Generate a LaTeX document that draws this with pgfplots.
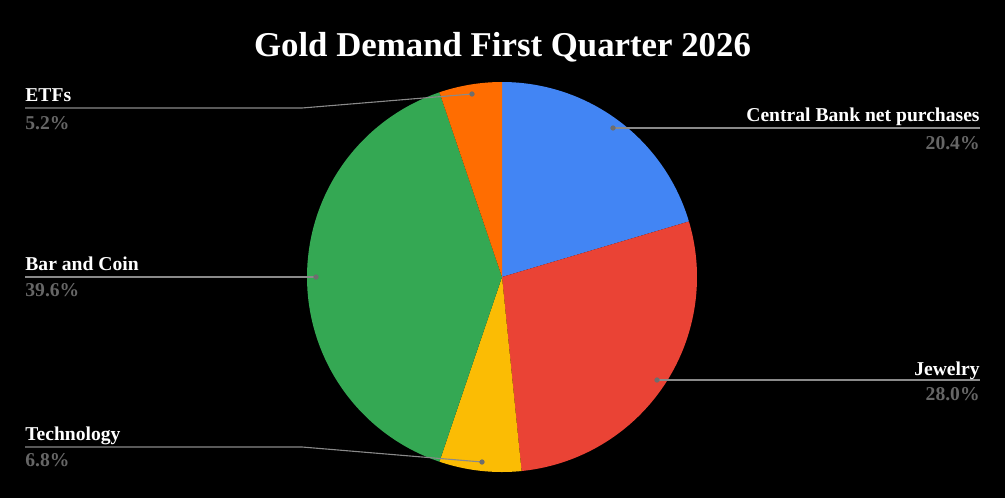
\documentclass[border=0pt]{standalone}
\usepackage{pgfplots}
\pgfplotsset{compat=1.18}
\usepackage{fontspec}
\setmainfont{Liberation Serif}
\definecolor{cCB}{HTML}{4285F4}
\definecolor{cJW}{HTML}{EA4335}
\definecolor{cTE}{HTML}{FBBC04}
\definecolor{cBC}{HTML}{34A853}
\definecolor{cET}{HTML}{FF6D01}
\definecolor{lineg}{HTML}{8A8A8A}
\definecolor{dotg}{HTML}{6E6E6E}
\definecolor{pctg}{HTML}{666666}
% slice: cumulative start (%), value (%), colour
\newcommand{\slice}[3]{%
  \addplot[fill=#3, draw=none, domain={90-3.6*(#1+#2)}:{90-3.6*(#1)}, samples=90, variable=\t]
    ({502+195*cos(\t)},{277-195*sin(\t)}) -- (axis cs:502,277) -- cycle;}
\begin{document}
\begin{tikzpicture}
\begin{axis}[scale only axis, width=502.5pt, height=249pt,
  xmin=0, xmax=1005, ymin=0, ymax=498, y dir=reverse,
  hide axis, clip=false]
\fill[black] (axis cs:0,0) rectangle (axis cs:1005,498);
\slice{0}{20.4}{cCB}
\slice{20.4}{28.0}{cJW}
\slice{48.4}{6.8}{cTE}
\slice{55.2}{39.6}{cBC}
\slice{94.8}{5.2}{cET}
% leader lines
\addplot[draw=lineg, line width=0.55pt] coordinates {(613,128) (980,128)};
\addplot[draw=lineg, line width=0.55pt] coordinates {(657,380) (980,380)};
\addplot[draw=lineg, line width=0.55pt] coordinates {(25,108) (302,108) (472,94)};
\addplot[draw=lineg, line width=0.55pt] coordinates {(25,277) (316,277)};
\addplot[draw=lineg, line width=0.55pt] coordinates {(25,447) (302,447) (482,462)};
\addplot[only marks, mark=*, mark size=1.1pt, color=dotg] coordinates {(613,128) (657,380) (472,94) (316,277) (482,462)};
% title
\node[anchor=base, text=white, font=\bfseries\fontsize{17.4}{19}\selectfont, inner sep=0] at (axis cs:502.5,56.5) {Gold Demand First Quarter 2026};
% labels
\tikzset{lab/.style={text=white, font=\bfseries\fontsize{9.8}{11}\selectfont, inner sep=0},
         pct/.style={text=pctg, font=\bfseries\fontsize{9.8}{11}\selectfont, inner sep=0}}
\node[lab, anchor=base east] at (axis cs:980,121) {Central Bank net purchases};
\node[pct, anchor=base east] at (axis cs:980,149) {20.4\%};
\node[lab, anchor=base east] at (axis cs:980,375) {Jewelry};
\node[pct, anchor=base east] at (axis cs:980,400) {28.0\%};
\node[lab, anchor=base west] at (axis cs:25,101.5) {ETFs};
\node[pct, anchor=base west] at (axis cs:25,129) {5.2\%};
\node[lab, anchor=base west] at (axis cs:25,270.5) {Bar and Coin};
\node[pct, anchor=base west] at (axis cs:25,296.5) {39.6\%};
\node[lab, anchor=base west] at (axis cs:25,440.5) {Technology};
\node[pct, anchor=base west] at (axis cs:25,466.5) {6.8\%};
\end{axis}
\end{tikzpicture}
\end{document}
